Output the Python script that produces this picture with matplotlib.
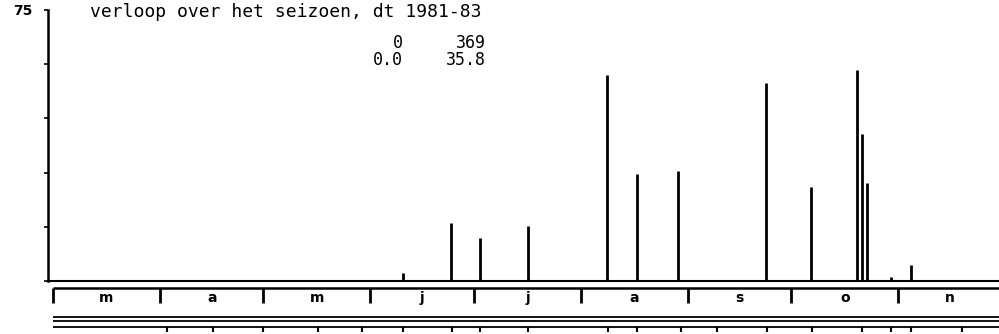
import matplotlib.pyplot as plt

# days counted from 1 March
month_labels = ["m", "a", "m", "j", "j", "a", "s", "o", "n"]
month_days = [31, 30, 31, 30, 31, 31, 30, 31, 30]

bar_days = [101.4, 115.4, 123.8, 137.7, 160.6, 169.3, 181.2, 206.7, 219.7,
            233.0, 234.5, 236.0, 242.9, 248.7]
bar_values = [2.3, 16.1, 11.8, 15.2, 57.0, 29.6, 30.4, 54.8, 26.0,
              58.4, 40.8, 27.2, 1.1, 4.5]

# tick marks of the next (cut off) panel below
lower_ticks = [33.0, 46.4, 60.9, 76.8, 89.6, 101.4, 115.7, 123.8, 137.7,
               160.9, 169.3, 182.0, 192.5, 206.9, 219.9, 234.5, 242.9, 248.7, 263.5]

W, H = 999, 334
px_per_day = 3.45
x0 = 53  # pixel of day 0
xlim = ((48 - x0) / px_per_day, (W - x0) / px_per_day)

fig = plt.figure(figsize=(W / 100, H / 100), dpi=100)

def box(left, top, right, bottom):
    return [left / W, 1 - bottom / H, (right - left) / W, (bottom - top) / H]

ax = fig.add_axes(box(48, 10, W, 281))
ax.set_xlim(xlim)
ax.set_ylim(0, 75)
ax.vlines(bar_days, 0, bar_values, color="black", lw=2.0)
for s in ["top", "right"]:
    ax.spines[s].set_visible(False)
ax.spines["left"].set_linewidth(1.8)
ax.spines["bottom"].set_linewidth(1.5)
ax.set_xticks([])
ax.set_yticks([0, 15, 30, 45, 60, 75])
ax.set_yticklabels(["", "", "", "", "", "75"], fontsize=10, fontweight="bold",
                   family="DejaVu Sans")
ax.tick_params(axis="y", length=3, width=1.2, pad=8)

ax.text(10.7, 74.5, "verloop over het seizoen, dt 1981-83", family="DejaVu Sans Mono",
        fontsize=13, va="center", ha="left")
ax.text(101.5, 66.0, "0", family="DejaVu Sans Mono", fontsize=12, ha="right", va="center")
ax.text(125.5, 66.0, "369", family="DejaVu Sans Mono", fontsize=12, ha="right", va="center")
ax.text(101.5, 61.2, "0.0", family="DejaVu Sans Mono", fontsize=12, ha="right", va="center")
ax.text(125.5, 61.2, "35.8", family="DejaVu Sans Mono", fontsize=12, ha="right", va="center")

# month band
ax2 = fig.add_axes(box(48, 286, W, 306))
ax2.set_xlim(xlim)
ax2.set_ylim(0, 1)
ax2.axis("off")
start = 0
bounds = [0]
for d in month_days:
    start += d
    bounds.append(start)
ax2.hlines(0.9, 0, xlim[1], color="black", lw=1.8)
ax2.vlines(bounds, 0.15, 0.9, color="black", lw=2.0)
for i, lab in enumerate(month_labels):
    mid = (bounds[i] + bounds[i + 1]) / 2
    ax2.text(mid, 0.42, lab, ha="center", va="center", fontsize=10,
             fontweight="bold", family="DejaVu Sans")

# top of the next panel
ax3 = fig.add_axes(box(48, 312, W, H))
ax3.set_xlim(xlim)
ax3.set_ylim(H, 312)
ax3.axis("off")
for yy in [317, 321, 327]:
    ax3.hlines(yy, 0, xlim[1], color="black", lw=1.3)
ax3.vlines(lower_ticks, 327, 332, color="black", lw=1.5)

fig.savefig("out.png", dpi=100)
